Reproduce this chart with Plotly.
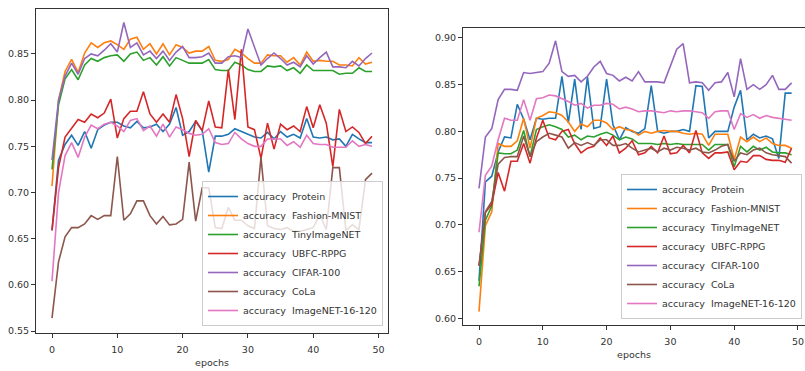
import plotly.graph_objects as go

epochs = list(range(50))
names = ["Protein", "Fashion-MNIST", "TinyImageNET", "UBFC-RPPG", "CIFAR-100", "CoLa", "ImageNET-16-120"]
colors = ["#1f77b4", "#ff7f0e", "#2ca02c", "#d62728", "#9467bd", "#8c564b", "#e377c2"]

# ---- left panel ----
L_protein = [.659,.735,.752,.762,.751,.766,.748,.768,.773,.776, .776,.772,.770,.777,.770,.771,.774,.766,.774,.792,
             .762,.766,.777,.767,.722,.761,.761,.763,.769,.766, .763,.760,.759,.765,.758,.766,.760,.763,.759,.780,
             .760,.759,.760,.757,.758,.750,.763,.758,.754,.754]
L_fashion = [.707,.800,.831,.844,.830,.851,.862,.857,.862,.864, .860,.855,.866,.868,.855,.861,.850,.861,.849,.860,
             .857,.851,.853,.853,.858,.843,.842,.844,.855,.851, .845,.840,.840,.849,.848,.848,.841,.846,.838,.852,
             .842,.843,.842,.842,.838,.838,.837,.846,.839,.841]
L_tiny = [.725,.795,.823,.833,.822,.838,.845,.842,.846,.848, .849,.842,.850,.852,.843,.846,.838,.847,.837,.846,
          .843,.840,.840,.840,.844,.833,.832,.832,.841,.838, .833,.831,.831,.837,.836,.837,.832,.835,.829,.838,
          .832,.832,.832,.832,.828,.829,.829,.835,.831,.831]
L_ubfc = [.659,.727,.760,.770,.779,.776,.785,.781,.786,.801, .759,.780,.788,.788,.809,.785,.776,.785,.776,.806,
          .780,.739,.778,.767,.799,.771,.770,.833,.779,.855, .771,.768,.737,.775,.747,.774,.768,.772,.766,.793,
          .770,.795,.775,.728,.790,.766,.771,.765,.753,.761]
L_cifar = [.735,.800,.826,.840,.828,.845,.850,.848,.854,.861, .852,.884,.857,.862,.849,.853,.845,.853,.843,.852,
           .858,.846,.846,.847,.851,.840,.840,.847,.848,.846, .877,.858,.838,.845,.851,.845,.838,.841,.836,.848,
           .839,.846,.852,.836,.836,.835,.842,.837,.845,.851]
L_cola = [.564,.625,.652,.662,.662,.666,.675,.671,.675,.675, .739,.670,.677,.691,.691,.675,.666,.674,.665,.666,
          .671,.733,.669,.705,.705,.662,.661,.684,.670,.670, .664,.661,.738,.664,.661,.660,.662,.658,.658,.660,
          .662,.676,.660,.727,.727,.659,.665,.660,.714,.721]
L_imagenet = [.604,.700,.740,.754,.738,.760,.773,.769,.774,.776, .772,.766,.778,.780,.767,.772,.761,.774,.760,.771,
              .768,.764,.762,.763,.769,.754,.752,.753,.765,.758, .753,.750,.750,.758,.758,.758,.751,.755,.749,.762,
              .753,.752,.752,.749,.749,.749,.756,.750,.752,.750]

# ---- right panel ----
R_protein = [.640,.746,.752,.778,.794,.793,.829,.813,.791,.814, .813,.814,.814,.859,.809,.856,.802,.858,.803,.805,
             .856,.807,.791,.804,.800,.798,.803,.849,.800,.798, .800,.800,.802,.800,.849,.848,.793,.800,.800,.800,
             .826,.844,.791,.797,.793,.795,.792,.771,.841,.841]
R_fashion = [.607,.699,.714,.787,.784,.784,.790,.814,.782,.814, .817,.821,.820,.817,.810,.800,.808,.805,.812,.812,
             .809,.802,.805,.802,.801,.796,.800,.798,.800,.801, .800,.800,.798,.797,.798,.797,.785,.797,.797,.797,
             .770,.794,.789,.794,.789,.793,.787,.785,.785,.782]
R_tiny = [.634,.705,.720,.777,.776,.776,.780,.801,.773,.802, .805,.807,.805,.802,.794,.796,.791,.795,.794,.797,
          .799,.796,.791,.794,.792,.787,.787,.787,.786,.787, .786,.787,.786,.786,.786,.786,.780,.786,.786,.786,
          .762,.784,.778,.784,.780,.783,.778,.777,.777,.775]
R_ubfc = [.656,.713,.722,.756,.736,.768,.768,.787,.766,.793, .812,.793,.791,.800,.802,.787,.777,.782,.784,.793,
          .785,.795,.777,.782,.790,.775,.777,.784,.777,.795, .776,.777,.785,.777,.801,.777,.771,.777,.777,.778,
          .759,.768,.767,.774,.774,.770,.769,.769,.767,.782]
R_cifar = [.739,.794,.803,.834,.845,.845,.844,.863,.862,.863, .864,.873,.897,.864,.859,.860,.853,.859,.869,.875,
           .862,.860,.854,.858,.854,.864,.853,.853,.853,.852, .869,.888,.894,.852,.853,.852,.844,.852,.853,.863,
           .837,.878,.845,.850,.845,.850,.860,.845,.845,.852]
R_cola = [.656,.714,.725,.765,.772,.773,.773,.795,.773,.789, .794,.798,.796,.794,.782,.788,.785,.788,.785,.791,
          .791,.785,.785,.787,.782,.778,.780,.782,.778,.782, .780,.783,.782,.780,.782,.778,.777,.780,.784,.786,
          .768,.777,.775,.780,.782,.777,.775,.774,.773,.766]
R_imagenet = [.692,.753,.763,.791,.814,.812,.812,.834,.812,.835, .836,.839,.838,.835,.832,.828,.830,.825,.828,.828,
              .830,.829,.824,.826,.824,.821,.822,.822,.821,.820, .822,.821,.822,.822,.821,.820,.814,.821,.822,.822,
              .802,.819,.815,.818,.814,.817,.815,.814,.813,.812]

left_series = [L_protein, L_fashion, L_tiny, L_ubfc, L_cifar, L_cola, L_imagenet]
right_series = [R_protein, R_fashion, R_tiny, R_ubfc, R_cifar, R_cola, R_imagenet]

W, H = 805, 371
fig = go.Figure()
for name, col, ys in zip(names, colors, left_series):
    fig.add_trace(go.Scatter(x=epochs, y=ys, mode="lines", name="accuracy\u00a0\u00a0" + name,
                             line=dict(color=col, width=1.6), xaxis="x", yaxis="y", legend="legend"))
for name, col, ys in zip(names, colors, right_series):
    fig.add_trace(go.Scatter(x=epochs, y=ys, mode="lines", name="accuracy\u00a0\u00a0" + name,
                             line=dict(color=col, width=1.6), xaxis="x2", yaxis="y2", legend="legend2"))

axis_common = dict(showline=True, mirror=True, linecolor="#333333", linewidth=1, showgrid=False,
                   zeroline=False, ticks="outside", ticklen=4, tickcolor="#333333", automargin=False,
                   tickfont=dict(size=9.5, color="#333333"))

fig.update_layout(
    width=W, height=H, margin=dict(l=0, r=0, t=0, b=0),
    paper_bgcolor="white", plot_bgcolor="white",
    font=dict(family="DejaVu Sans", size=9.5, color="#333333"),
    xaxis=dict(domain=[36 / W, 388 / W], range=[-2.45, 51.45], tickvals=[0, 10, 20, 30, 40, 50],
               anchor="y", title=dict(text="epochs", standoff=4, font=dict(size=9.5)),
               ticklabelstandoff=4, **axis_common),
    yaxis=dict(domain=[(H - 333) / H, (H - 9) / H], range=[0.548, 0.8986], dtick=0.05, tickformat=".2f",
               anchor="x", **axis_common),
    xaxis2=dict(domain=[463 / W, 1.0], range=[-2.51, 51.1], tickvals=[0, 10, 20, 30, 40, 50],
                anchor="y2", title=dict(text="epochs", standoff=4, font=dict(size=9.5)),
                ticklabelstandoff=4, **axis_common),
    yaxis2=dict(domain=[(H - 325) / H, (H - 28) / H], range=[0.5927, 0.9107], dtick=0.05, tickformat=".2f",
                anchor="x2", **axis_common),
    legend=dict(x=383 / W, xanchor="right", y=(H - 326) / H, yanchor="bottom",
                bgcolor="rgba(255,255,255,0.8)", bordercolor="#cccccc", borderwidth=1,
                font=dict(size=9.5, color="#333333")),
    legend2=dict(x=802 / W, xanchor="right", y=(H - 319) / H, yanchor="bottom",
                 bgcolor="rgba(255,255,255,0.8)", bordercolor="#cccccc", borderwidth=1,
                 font=dict(size=9.5, color="#333333")),
)

fig.write_html("out.html", config={"displayModeBar": False},
               post_script="document.body.style.margin='0';document.body.style.overflow='hidden';")
